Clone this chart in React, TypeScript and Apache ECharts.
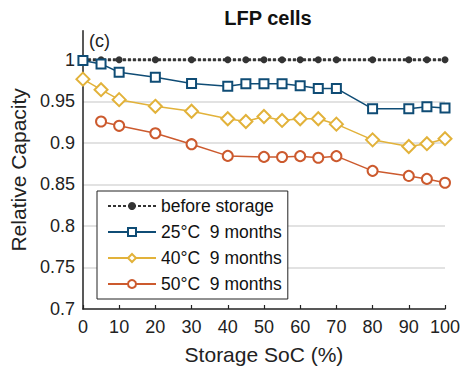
import React, { useEffect, useRef } from "react";
import * as echarts from "echarts";

const socAll = [0, 5, 10, 20, 30, 40, 45, 50, 55, 60, 65, 70, 80, 90, 95, 100];
const beforeStorage = [1, 1, 1, 1, 1, 1, 1, 1, 1, 1, 1, 1, 1, 1, 1, 1];
const cap25 = [0.999, 0.995, 0.985, 0.979, 0.9715, 0.968, 0.971, 0.971, 0.971, 0.9687, 0.9655, 0.9655, 0.941, 0.941, 0.9434, 0.942];
const cap40 = [0.9767, 0.964, 0.952, 0.944, 0.938, 0.929, 0.9257, 0.9317, 0.927, 0.929, 0.929, 0.9225, 0.9036, 0.8956, 0.899, 0.905];
const soc50 = [5, 10, 20, 30, 40, 50, 55, 60, 65, 70, 80, 90, 95, 100];
const cap50 = [0.9257, 0.9205, 0.9116, 0.8984, 0.8843, 0.8831, 0.883, 0.884, 0.882, 0.884, 0.8663, 0.8602, 0.8566, 0.852];

const seriesNames = ["before storage", "25°C  9 months", "40°C  9 months", "50°C  9 months"];
const FONT = "'Liberation Sans', Arial, Helvetica, sans-serif";

const zip = (xs: number[], ys: number[]) => xs.map((x, i) => [x, ys[i]]);

export default function App() {
  const ref = useRef<HTMLDivElement>(null);
  useEffect(() => {
    if (!ref.current) return;
    const chart = echarts.init(ref.current, undefined, { renderer: "svg" });
    const isMajor = (v: number) => Math.abs(v * 20 - Math.round(v * 20)) < 1e-6;
    chart.setOption({
      animation: false,
      backgroundColor: "#fff",
      textStyle: { fontFamily: FONT },
      title: {
        text: "LFP cells",
        left: 263,
        top: 3,
        textAlign: "center",
        textStyle: { fontFamily: FONT, fontSize: 20, fontWeight: "bold", color: "#111" },
      },
      graphic: [
        {
          type: "text",
          x: 89,
          y: 41,
          style: { text: "(c)", font: `18px ${FONT}`, fill: "#222", textVerticalAlign: "middle" },
        },
      ],
      grid: { left: 82, right: 28, top: 30.7, bottom: 68, containLabel: false },
      legend: {
        orient: "vertical",
        left: 97,
        top: 191,
        itemWidth: 48,
        itemHeight: 10,
        itemGap: 8,
        itemTextGap: 5,
        padding: [6, 6, 6, 10],
        borderColor: "#222",
        borderWidth: 1,
        backgroundColor: "#fff",
        textStyle: { fontFamily: FONT, fontSize: 17.5, color: "#111" },
        data: seriesNames,
      },
      xAxis: {
        type: "value",
        min: 0,
        max: 100,
        interval: 10,
        name: "Storage SoC (%)",
        nameLocation: "middle",
        nameGap: 35,
        nameTextStyle: { fontFamily: FONT, fontSize: 21, color: "#222" },
        axisLine: { lineStyle: { color: "#222", width: 1.5 } },
        axisTick: { inside: true, length: 4, lineStyle: { color: "#222", width: 1.2 } },
        axisLabel: { fontFamily: FONT, fontSize: 18, color: "#222", margin: 9 },
        splitLine: { show: false },
      },
      yAxis: {
        type: "value",
        min: 0.7,
        max: 1.035,
        interval: 0.05,
        name: "Relative Capacity",
        nameLocation: "middle",
        nameGap: 51,
        nameTextStyle: { fontFamily: FONT, fontSize: 21, color: "#222" },
        axisLine: { show: true, lineStyle: { color: "#222", width: 1.5 } },
        axisTick: { show: false },
        axisLabel: {
          fontFamily: FONT,
          fontSize: 18,
          color: "#222",
          margin: 8,
          formatter: (v: number) => (isMajor(v) ? String(+v.toFixed(2)) : ""),
        },
        splitLine: {
          show: true,
          showMinLine: false,
          showMaxLine: false,
          lineStyle: { color: "#d9d9d9", width: 1.5 },
        },
      },
      series: [
        {
          name: seriesNames[0],
          type: "line",
          data: zip(socAll, beforeStorage),
          symbol: "circle",
          symbolSize: 7,
          itemStyle: { color: "#333" },
          lineStyle: { color: "#333", width: 3, type: [3, 2] },
          z: 2,
        },
        {
          name: seriesNames[1],
          type: "line",
          data: zip(socAll, cap25),
          symbol: "emptyRect",
          symbolSize: 9,
          itemStyle: { color: "#0f4c75", borderWidth: 2 },
          lineStyle: { color: "#0f4c75", width: 1.5 },
          z: 3,
        },
        {
          name: seriesNames[2],
          type: "line",
          data: zip(socAll, cap40),
          symbol: "emptyDiamond",
          symbolSize: 13,
          itemStyle: { color: "#e2b23a", borderWidth: 1.5 },
          lineStyle: { color: "#e2b23a", width: 1.5 },
          z: 3,
        },
        {
          name: seriesNames[3],
          type: "line",
          data: zip(soc50, cap50),
          symbol: "emptyCircle",
          symbolSize: 10,
          itemStyle: { color: "#cc5a2e", borderWidth: 1.5 },
          lineStyle: { color: "#cc5a2e", width: 1.5 },
          z: 3,
        },
      ],
    });
    return () => chart.dispose();
  }, []);
  return (
    <div
      ref={ref}
      style={{ position: "absolute", left: 0, top: 0, width: 473, height: 377 }}
    />
  );
}
